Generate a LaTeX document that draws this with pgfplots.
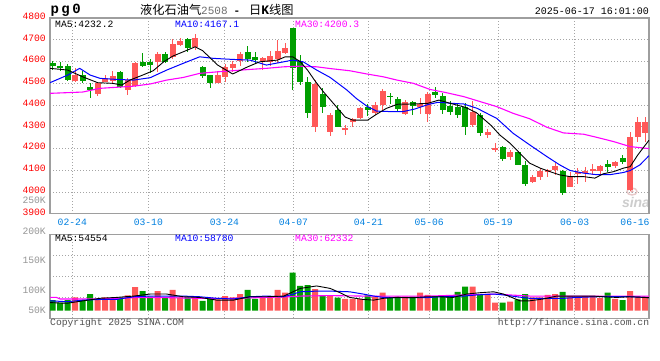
\documentclass[border=0pt]{standalone}
\usepackage{fontspec}
\usepackage{pgfplots}
\usepackage{pgfplotstable}
\pgfplotsset{compat=1.18}
\setmainfont{Liberation Mono}
\newfontfamily\cjk{Noto Sans CJK SC}
\newfontfamily\sinafont{Liberation Sans}
\definecolor{cred}{RGB}{255,88,88}
\definecolor{cgreen}{RGB}{0,158,0}
\definecolor{tickred}{RGB}{255,0,0}
\definecolor{tickblue}{RGB}{0,128,224}
\definecolor{gridc}{RGB}{165,165,165}
\definecolor{borderc}{RGB}{158,158,158}
\definecolor{maten}{RGB}{0,0,255}
\definecolor{mathirty}{RGB}{255,0,255}
\definecolor{volgray}{RGB}{150,150,150}
\definecolor{footgray}{RGB}{80,80,80}
\definecolor{titlegray}{RGB}{110,110,110}
\definecolor{sinagray}{RGB}{205,205,205}

% x o h l c v   (up days, red)
\pgfplotstableread{
x o h l c v
3 4510 4569 4508 4540 59
6 4451 4504 4443 4500 50
7 4507 4540 4505 4526 59
8 4510 4558 4503 4536 55
10 4469 4523 4446 4515 68
11 4487 4599 4484 4593 105
14 4598 4645 4553 4637 87
16 4619 4702 4614 4682 92
17 4676 4709 4671 4696 59
19 4668 4726 4653 4709 62
22 4500 4558 4500 4540 50
23 4527 4588 4507 4576 65
24 4569 4604 4550 4591 59
25 4602 4645 4579 4634 74
28 4604 4622 4561 4618 59
29 4599 4650 4579 4625 59
30 4614 4699 4592 4648 92
31 4640 4686 4637 4663 80
35 4301 4515 4275 4495 96
37 4275 4362 4260 4354 67
39 4288 4308 4263 4292 53
40 4324 4339 4301 4336 53
41 4339 4393 4335 4385 53
43 4362 4412 4354 4400 62
44 4400 4474 4377 4467 80
47 4360 4423 4354 4412 62
49 4393 4431 4357 4405 80
50 4360 4458 4324 4451 70
56 4310 4419 4301 4370 107
58 4263 4289 4250 4278 74
59 4198 4224 4186 4202 36
61 4163 4194 4148 4186 40
64 4044 4079 4041 4068 59
65 4071 4110 4056 4097 59
66 4090 4105 4067 4102 70
67 4102 4133 4079 4120 74
69 4025 4094 4022 4074 65
70 4084 4110 4038 4094 59
71 4087 4117 4048 4097 65
72 4096 4130 4079 4107 65
73 4099 4125 4084 4122 56
75 4122 4145 4110 4137 53
77 4010 4278 4003 4255 87
78 4252 4347 4229 4322 65
79 4273 4347 4229 4322 62
}\redtab

% down days, green
\pgfplotstableread{
x o h l c v
0 4592 4602 4561 4579 47
1 4582 4598 4558 4572 36
2 4582 4591 4510 4515 47
4 4538 4558 4500 4510 47
5 4481 4500 4434 4468 74
9 4552 4558 4477 4481 59
12 4598 4638 4576 4582 87
13 4598 4614 4549 4585 62
15 4637 4645 4592 4599 59
18 4703 4709 4645 4663 59
20 4576 4582 4526 4536 44
21 4540 4540 4480 4500 53
26 4645 4671 4599 4610 92
27 4622 4645 4592 4607 53
32 4754 4754 4469 4569 169
33 4602 4630 4492 4504 110
34 4506 4530 4339 4364 114
36 4451 4477 4362 4393 67
38 4377 4400 4301 4301 58
42 4393 4405 4350 4378 68
45 4443 4454 4403 4438 58
46 4428 4439 4370 4384 62
48 4412 4419 4354 4398 62
51 4461 4481 4431 4448 65
52 4440 4454 4357 4377 65
53 4395 4420 4355 4367 65
54 4393 4408 4339 4354 84
55 4393 4408 4263 4301 107
57 4354 4362 4258 4270 74
60 4209 4212 4143 4151 36
62 4182 4182 4125 4125 50
63 4125 4145 4029 4038 74
68 4099 4102 3987 3995 84
74 4130 4148 4090 4117 80
76 4155 4171 4128 4140 47
}\greentab

\pgfplotsset{
  sina/.style={
    scale only axis, width=599pt, anchor=south west,
    xmin=-0.36, xmax=79.51,
    axis line style={draw=borderc, line width=1.3pt},
    major tick length=0pt,
    grid=major,
    grid style={draw=gridc, line width=0.9pt, dash pattern=on 1pt off 2pt},
    xtick={2.61,12.75,22.9,32.1,42.1,50.2,59.4,69.6},
    tick label style={font=\fontsize{9.7}{10}\selectfont},
  },
  wick/.style={draw=none, mark=none, forget plot,
    error bars/.cd, y dir=both, y explicit, error mark=none,
    error bar style={draw=#1, line width=1pt}},
  body/.style={draw=none, mark=none, forget plot,
    error bars/.cd, y dir=both, y explicit, error mark=none,
    error bar style={draw=#1, line width=6pt}},
}

\begin{document}
\begin{tikzpicture}[x=1pt,y=1pt]
\useasboundingbox (0,0) rectangle (660,360);
\fill[white] (0,0) rectangle (660,360);

% sina watermark
\node[inner sep=0pt] at (636,158) {\sinafont\bfseries\itshape\fontsize{14}{14}\selectfont\textcolor{sinagray}{sina}};
\draw[sinagray!80!red!60, line width=1.4pt] (632,168.5) ellipse (5pt and 3.5pt);
\fill[sinagray!70!red!70] (632,168.5) circle (1.6pt);

% ---------- price panel ----------
\begin{axis}[sina, at={(50pt,146.2pt)}, height=195.7pt,
  ymin=3900, ymax=4800,
  ytick={3900,4000,4100,4200,4300,4400,4500,4600,4700,4800},
  yticklabels={3900,4000,4100,4200,4300,4400,4500,4600,4700,4800},
  yticklabel style={text=tickred, anchor=east, inner sep=0pt, xshift=-4pt, yshift=2pt},
  xticklabels={02-24,03-10,03-24,04-07,04-21,05-06,05-19,06-03},
  xticklabel style={text=tickblue, anchor=north, inner sep=0pt, yshift=-4.8pt},
  extra x ticks={77.64}, extra x tick labels={06-16},
  extra x tick style={grid=none},
]
\addplot[wick=cred] table[x=x, y expr={(\thisrow{h}+\thisrow{l})/2}, y error expr={(\thisrow{h}-\thisrow{l})/2}] {\redtab};
\addplot[body=cred] table[x=x, y expr={(\thisrow{o}+\thisrow{c})/2}, y error expr={max(abs(\thisrow{c}-\thisrow{o})/2,2.5)}] {\redtab};
\addplot[wick=cgreen] table[x=x, y expr={(\thisrow{h}+\thisrow{l})/2}, y error expr={(\thisrow{h}-\thisrow{l})/2}] {\greentab};
\addplot[body=cgreen] table[x=x, y expr={(\thisrow{o}+\thisrow{c})/2}, y error expr={max(abs(\thisrow{c}-\thisrow{o})/2,2.5)}] {\greentab};

% MA30
\addplot[mathirty, line width=1.1pt, mark=none] coordinates {
(-0.36,4454) (4,4460) (6.3,4477) (10.8,4487) (13,4497) (15.2,4515) (17.4,4527) (19.6,4546) (22,4553) (24,4558) (26.3,4564) (28.5,4569) (30.8,4576) (33,4579) (35.2,4576) (37,4568) (39.6,4558) (41.9,4543) (44.1,4530) (45.9,4515) (48.1,4500) (50.3,4472) (52.5,4457) (54.8,4439) (57,4416) (59.2,4393) (61.4,4362) (63.6,4337) (65.9,4298) (68.1,4272) (70.8,4266) (72.5,4252) (74.8,4232) (77,4209) (79.5,4200)};
% MA10
\addplot[maten, line width=1pt, mark=none] coordinates {
(-0.36,4503) (2,4538) (3.6,4569) (5,4538) (6.3,4523) (8.5,4518) (10.8,4515) (13,4526) (15.2,4561) (17.4,4592) (19.6,4622) (21.4,4615) (24,4610) (26.3,4607) (28.5,4584) (30.8,4599) (32,4607) (33.4,4599) (35.2,4561) (37,4527) (39.2,4470) (40.5,4430) (41.9,4395) (43.2,4372) (45.2,4370) (46.7,4370) (48.3,4382) (50.1,4403) (51.4,4413) (53.3,4408) (54.8,4405) (56.6,4385) (58,4360) (59.2,4339) (61.4,4270) (63.6,4217) (65.9,4163) (67.6,4125) (69,4099) (70.8,4087) (72.5,4080) (74.3,4080) (76.1,4090) (77,4099) (78.3,4125) (79.5,4167)};
% MA5
\addplot[black, line width=0.9pt, mark=none] coordinates {
(-0.36,4569) (2,4561) (4,4530) (6,4503) (8,4500) (9.2,4492) (10.3,4515) (12,4538) (13.4,4558) (14.8,4599) (16,4625) (17.4,4645) (19,4668) (20,4650) (22,4584) (24,4543) (26,4576) (27.6,4599) (30,4607) (31,4622) (32,4622) (33,4600) (34,4560) (35,4510) (36,4465) (37,4425) (38,4385) (39,4345) (40,4331) (42,4331) (43,4354) (44.5,4385) (46,4404) (48,4405) (50,4408) (51.5,4423) (53,4408) (55,4390) (56.5,4365) (57.5,4335) (58.5,4305) (59.6,4263) (61,4224) (62.3,4178) (63.6,4133) (65,4110) (66.3,4094) (67.6,4079) (69,4071) (70.8,4071) (72.3,4064) (73.4,4084) (74.8,4094) (76.1,4110) (77,4117) (78,4170) (79.5,4238)};
\end{axis}

% ---------- volume panel ----------
\begin{axis}[sina, at={(50pt,41.7pt)}, height=84pt,
  ymin=-33.8, ymax=339.5,
  ytick={59.6,152.9,246.2}, yticklabels={},
  xticklabels={},
]
\addplot[ybar, bar width=6pt, bar shift=0pt, fill=cred, draw=none] table[x=x, y=v] {\redtab};
\addplot[ybar, bar width=6pt, bar shift=0pt, fill=cgreen, draw=none] table[x=x, y=v] {\greentab};
% vol MA30
\addplot[mathirty, line width=1.1pt, mark=none] coordinates {
(-0.36,59) (0.5,59) (1,52) (6.3,52) (10.8,58) (15.2,58) (19.6,55) (24.1,55) (28.5,59) (31.6,62) (33,65) (37,67) (41.4,65) (45.9,65) (50.3,65) (54.8,70) (59.2,74) (61,70) (63.6,65) (68.1,65) (72.5,65) (77,65) (79.5,65)};
% vol MA10
\addplot[maten, line width=1pt, mark=none] coordinates {
(-0.36,44) (1.9,40) (4.1,47) (6.3,50) (8.5,50) (10.8,62) (13,65) (15.2,65) (17.4,65) (19.6,62) (21.9,55) (24.1,52) (26.3,62) (28.5,65) (30.8,62) (32.1,74) (33,84) (35.2,87) (37,87) (39.6,84) (41.4,74) (42.8,65) (44.1,59) (46.8,58) (49.9,58) (51.6,62) (54.8,65) (56.5,70) (58.8,74) (60.1,70) (61.9,62) (63.6,55) (65.4,55) (68.1,55) (69.9,59) (72.5,62) (75.2,62) (77,62) (79.5,58)};
% vol MA5
\addplot[black, line width=0.9pt, mark=none] coordinates {
(-0.36,36) (1.9,33) (4.1,44) (6.3,55) (8.5,59) (10.8,65) (13,74) (15.2,74) (17.4,62) (19.6,59) (21.9,47) (24.1,47) (26.3,62) (28.5,62) (30.8,65) (31.6,77) (33,99) (35.2,110) (37,99) (38.3,80) (39.6,59) (41.4,50) (42.8,47) (44.1,55) (45.9,59) (48.1,58) (49.9,62) (51.6,62) (53.4,59) (55.2,74) (57,80) (58.8,84) (60.1,74) (61,62) (62.3,44) (63.6,44) (65.4,52) (67.2,65) (69,65) (72.1,65) (73.4,62) (75.2,59) (77,62) (79.5,58)};
\end{axis}

% ---------- texts ----------
\node[anchor=west, inner sep=0pt] at (50.5,350) {\fontsize{14}{14}\selectfont\bfseries p\hspace{2.4pt}g\hspace{2.4pt}0};
\node[anchor=west, inner sep=0pt] at (140,350) {\fontsize{11}{13}\selectfont{\cjk\fontsize{12.2}{13}\selectfont 液化石油气}\textcolor{titlegray}{2508}\hspace{6pt}\textbf{-}\hspace{9pt}{\cjk\fontsize{12.2}{13}\selectfont 日}{\fontsize{13}{13}\selectfont\bfseries K}{\cjk\fontsize{12.2}{13}\selectfont 线图}};
\node[anchor=east, inner sep=0pt] at (649,348.5) {\fontsize{10}{10}\selectfont 2025-06-17 16:01:00};

\begin{scope}[every node/.style={anchor=west, inner sep=0pt, font=\fontsize{9.7}{10}\selectfont}]
\node[text=black] at (55,336) {MA5:4232.2};
\node[text=maten] at (175,336) {MA10:4167.1};
\node[text=mathirty] at (295,336) {MA30:4200.3};
\node[text=black] at (55,121.7) {MA5:54554};
\node[text=maten] at (175,121.7) {MA10:58780};
\node[text=mathirty] at (295,121.7) {MA30:62332};
\node[text=footgray] at (50,37) {Copyright 2025 SINA.COM};
\end{scope}
\node[anchor=east, inner sep=0pt, text=footgray, font=\fontsize{9.7}{10}\selectfont] at (649.3,37) {http://finance.sina.com.cn};

\begin{scope}[every node/.style={anchor=east, inner sep=0pt, text=volgray, font=\fontsize{9.7}{10}\selectfont}]
\node at (46,160) {250K};
\node at (46,129.2) {200K};
\node at (46,99.3) {150K};
\node at (46,69.3) {100K};
\node at (46,49.3) {50K};
\end{scope}
\end{tikzpicture}
\end{document}
